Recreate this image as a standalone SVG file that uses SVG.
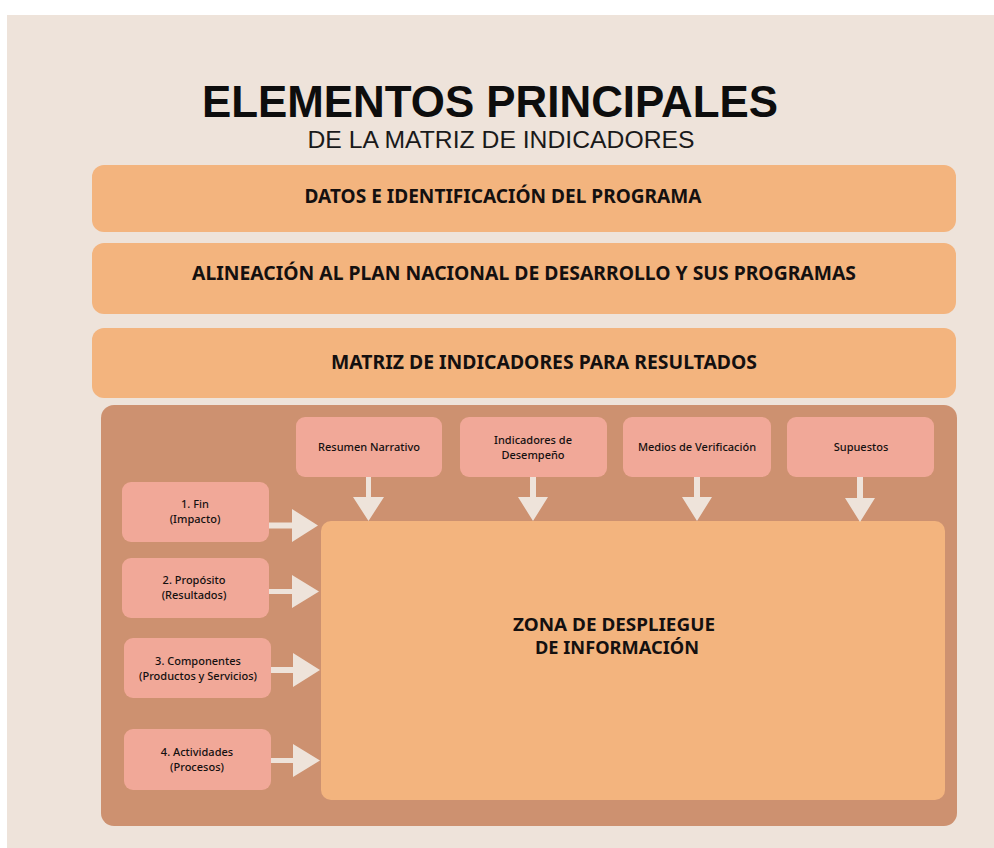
<svg xmlns="http://www.w3.org/2000/svg" width="994" height="848" viewBox="0 0 994 848">
<defs>
<style>
.bar{fill:#F3B47E}
.panel{fill:#CD9170}
.box{fill:#F1A898}
.zone{fill:#F3B47E}
.arrow{fill:#EEE3DA}
.t{font-family:"Noto Sans","Liberation Sans",sans-serif;fill:#141010;text-anchor:middle}
.bt{font-size:19px;font-weight:700}
.st{font-size:11px;font-weight:500}
.zt{font-size:18px;font-weight:700}
</style>
</defs>
<rect x="0" y="0" width="994" height="848" fill="#FFFFFF"/>
<rect x="7" y="15" width="987" height="833" fill="#EEE3DA"/>
<g id="title">
<text x="490" y="117" font-family="'Liberation Sans',Arial,sans-serif" font-weight="700" font-size="44" fill="#0d0d0d" text-anchor="middle" textLength="576" lengthAdjust="spacingAndGlyphs">ELEMENTOS PRINCIPALES</text>
<text x="501" y="147.5" font-family="'Liberation Sans',Arial,sans-serif" font-size="23.5" fill="#1a1a1a" text-anchor="middle" textLength="387" lengthAdjust="spacingAndGlyphs">DE LA MATRIZ DE INDICADORES</text>
</g>
<g id="bar-datos">
<rect class="bar" x="92" y="165" width="864" height="67" rx="12"/>
<text class="t bt" x="503" y="203" textLength="397" lengthAdjust="spacingAndGlyphs">DATOS E IDENTIFICACIÓN DEL PROGRAMA</text>
</g>
<g id="bar-alineacion">
<rect class="bar" x="92" y="243" width="864" height="71" rx="12"/>
<text class="t bt" x="524" y="280" textLength="664" lengthAdjust="spacingAndGlyphs">ALINEACIÓN AL PLAN NACIONAL DE DESARROLLO Y SUS PROGRAMAS</text>
</g>
<g id="bar-matriz">
<rect class="bar" x="92" y="328" width="864" height="70" rx="12"/>
<text class="t bt" x="544" y="369" textLength="426" lengthAdjust="spacingAndGlyphs">MATRIZ DE INDICADORES PARA RESULTADOS</text>
</g>
<g id="panel">
<rect class="panel" x="101" y="405" width="856" height="421" rx="13"/>
</g>
<g id="zona">
<rect class="zone" x="321" y="521" width="624" height="279" rx="10"/>
<text class="t zt" x="614" y="631" textLength="202" lengthAdjust="spacingAndGlyphs">ZONA DE DESPLIEGUE</text>
<text class="t zt" x="617" y="654" textLength="164" lengthAdjust="spacingAndGlyphs">DE INFORMACIÓN</text>
</g>
<g id="resumen">
<rect class="box" x="296" y="417" width="146" height="60" rx="9"/>
<text class="t st" x="369" y="451">Resumen Narrativo</text>
</g>
<g id="indicadores">
<rect class="box" x="460" y="417" width="147" height="60" rx="9"/>
<text class="t st" x="533" y="444">Indicadores de</text>
<text class="t st" x="533" y="459">Desempeño</text>
</g>
<g id="medios">
<rect class="box" x="623" y="417" width="148" height="60" rx="9"/>
<text class="t st" x="697" y="451">Medios de Verificación</text>
</g>
<g id="supuestos">
<rect class="box" x="787" y="417" width="147" height="60" rx="9"/>
<text class="t st" x="861" y="451">Supuestos</text>
</g>
<g id="fin">
<rect class="box" x="122" y="482" width="147" height="60" rx="9"/>
<text class="t st" x="195" y="508">1. Fin</text>
<text class="t st" x="195" y="523">(Impacto)</text>
</g>
<g id="proposito">
<rect class="box" x="122" y="558" width="147" height="60" rx="9"/>
<text class="t st" x="194" y="584">2. Propósito</text>
<text class="t st" x="194" y="599">(Resultados)</text>
</g>
<g id="componentes">
<rect class="box" x="124" y="638" width="147" height="60" rx="9"/>
<text class="t st" x="198" y="665">3. Componentes</text>
<text class="t st" x="198" y="680">(Productos y Servicios)</text>
</g>
<g id="actividades">
<rect class="box" x="124" y="729" width="147" height="61" rx="9"/>
<text class="t st" x="197" y="756">4. Actividades</text>
<text class="t st" x="197" y="771">(Procesos)</text>
</g>
<g id="connectors">
<path class="arrow" d="M366 477 H371 V497 H384 L368.5 521 L353 497 H366 Z"/>
<path class="arrow" d="M530 477 H536 V497 H548 L533 521 L518 497 H530 Z"/>
<path class="arrow" d="M694 477 H700 V497 H712 L697 521 L682 497 H694 Z"/>
<path class="arrow" d="M857 477 H863 V498 H875 L860 522 L845 498 H857 Z"/>
<path class="arrow" d="M269 522.5 H292 V509 L318 525.5 L292 542 V528.5 H269 Z"/>
<path class="arrow" d="M269 589 H292 V575 L319 591.5 L292 608 V594 H269 Z"/>
<path class="arrow" d="M271 667 H293 V653 L320 670 L293 687 V673 H271 Z"/>
<path class="arrow" d="M271 758 H293 V744 L320 760.5 L293 777 V763 H271 Z"/>
</g>
</svg>
